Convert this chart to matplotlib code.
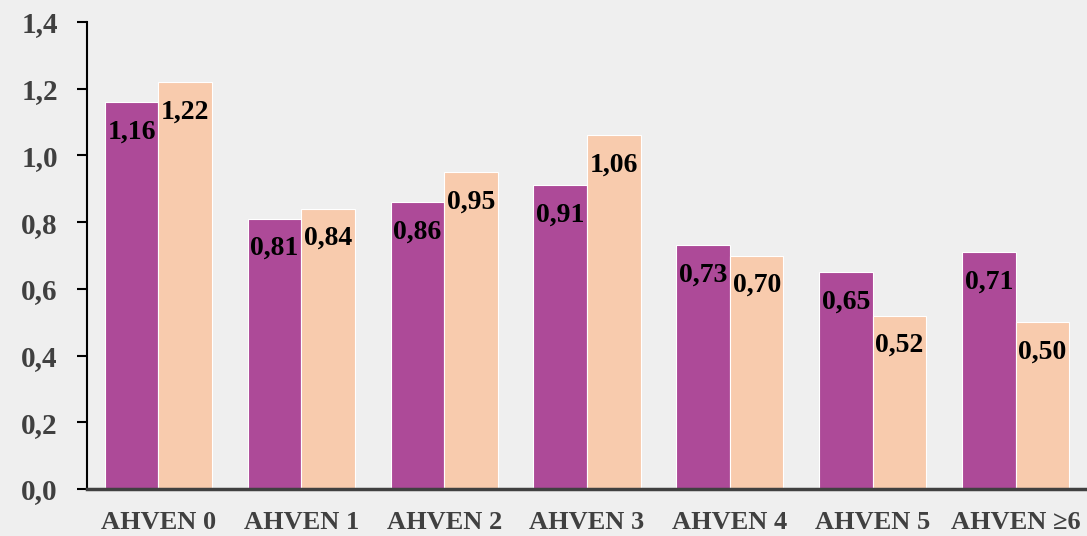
import matplotlib.pyplot as plt
import numpy as np

categories = ['AHVEN 0', 'AHVEN 1', 'AHVEN 2', 'AHVEN 3', 'AHVEN 4', 'AHVEN 5', 'AHVEN ≥6']
series_a = [1.16, 0.81, 0.86, 0.91, 0.73, 0.65, 0.71]
series_b = [1.22, 0.84, 0.95, 1.06, 0.70, 0.52, 0.50]
yticks = [0.0, 0.2, 0.4, 0.6, 0.8, 1.0, 1.2, 1.4]

bg = '#EFEFEF'
color_a = '#AD4A98'
color_b = '#F8CBAD'
grey = '#404040'

plt.rcParams['font.family'] = ['Liberation Serif', 'DejaVu Serif']
plt.rcParams['font.weight'] = 'bold'

fig = plt.figure(figsize=(10.87, 5.36), dpi=100, facecolor=bg)
ax = fig.add_axes([87 / 1087, 1 - 489 / 536, 1000 / 1087, 467 / 536])
ax.set_facecolor(bg)

x = np.arange(len(categories))
w = 0.375
bars_a = ax.bar(x - w / 2, series_a, w, color=color_a, edgecolor='white', linewidth=0.8)
bars_b = ax.bar(x + w / 2, series_b, w, color=color_b, edgecolor='white', linewidth=0.8)

# value labels sit just inside the top of each bar
for bars, vals in ((bars_a, series_a), (bars_b, series_b)):
    for b, v in zip(bars, vals):
        ax.annotate(f'{v:.2f}'.replace('.', ','), (b.get_x() + b.get_width() / 2, v),
                    xytext=(0, -21.5), textcoords='offset points',
                    ha='center', va='center', fontsize=20, fontweight='bold', color='black')

ax.set_xlim(-0.5, len(categories) - 0.5)
ax.set_ylim(0, 1.4)
ax.set_yticks(yticks)
ax.set_yticklabels([f'{t:.1f}'.replace('.', ',') for t in yticks], fontsize=21,
                   color=grey, fontweight='bold')
ax.set_xticks(x)
ax.set_xticklabels(categories, fontsize=19, color=grey, fontweight='bold')

ax.spines['top'].set_visible(False)
ax.spines['right'].set_visible(False)
ax.spines['left'].set_color('black')
ax.spines['left'].set_linewidth(1.5)
ax.spines['bottom'].set_color(grey)
ax.spines['bottom'].set_linewidth(2.5)
ax.spines['bottom'].set_zorder(5)
ax.tick_params(axis='y', length=7, width=1.5, color='black', pad=14)
ax.tick_params(axis='x', length=0, pad=16)

fig.savefig('out.png', dpi=100, facecolor=bg)
